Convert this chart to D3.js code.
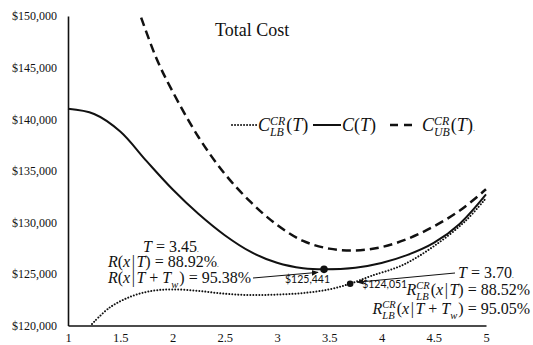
<!DOCTYPE html>
<html>
<head>
<meta charset="utf-8">
<script src="https://cdn.jsdelivr.net/npm/d3@7"></script>
<style>
  body { margin: 0; background: #fff; }
  svg { display: block; }
</style>
</head>
<body>
<svg id="chart" width="533" height="345"></svg>
<script>
// ---- Data ----
const xTicks = [1, 1.5, 2, 2.5, 3, 3.5, 4, 4.5, 5];
const yTicks = [120000, 125000, 130000, 135000, 140000, 145000, 150000];

// C(T): total cost
const tC    = [1, 1.25, 1.5, 1.75, 2, 2.25, 2.5, 2.75, 3, 3.25, 3.45, 3.75, 4, 4.25, 4.5, 4.75, 5];
const costC = [141000, 140500, 138800, 135950, 133200, 130800, 128750, 127130, 126080, 125550, 125441, 125600, 126060, 126840, 128000, 129870, 132700];

// Upper bound C_UB^CR(T)
const tUB    = [1.7, 1.85, 2, 2.25, 2.5, 2.75, 3, 3.25, 3.5, 3.75, 4, 4.25, 4.5, 4.75, 5];
const costUB = [149850, 145800, 142700, 138250, 134700, 131950, 129750, 128200, 127450, 127280, 127600, 128400, 129600, 131150, 133200];

// Lower bound C_LB^CR(T)
const tLB    = [1.23, 1.4, 1.6, 1.8, 2, 2.25, 2.5, 2.75, 3, 3.25, 3.5, 3.7, 3.9, 4.2, 4.5, 4.8, 5];
const costLB = [120150, 121750, 122800, 123350, 123500, 123350, 123080, 122950, 123000, 123150, 123500, 124051, 124800, 125850, 127680, 130100, 132350];

// Optimal points: C(T) minimum and lower-bound minimum
const optT    = [3.45, 3.70];
const optCost = [125441, 124051];

// ---- Layout ----
const svg = d3.select("#chart");
const x = d3.scaleLinear().domain([1, 5]).range([68, 486]);
const y = d3.scaleLinear().domain([120000, 150000]).range([325.5, 16]);

const serif = "Liberation Serif, Times New Roman, serif";

// Axes
const yAxis = d3.axisLeft(y).tickValues(yTicks).tickSize(0).tickSizeOuter(0).tickPadding(11)
  .tickFormat(d => "$" + d3.format(",")(d));
const gy = svg.append("g").attr("transform", `translate(${x(1)},0)`).call(yAxis);
gy.attr("font-family", serif).attr("font-size", 12);
gy.selectAll("text").attr("fill", "#111");

const xAxis = d3.axisBottom(x).tickValues(xTicks).tickSize(0).tickSizeOuter(0).tickPadding(8)
  .tickFormat(d3.format("~g"));
const gx = svg.append("g").attr("transform", `translate(0,${y(120000)})`).call(xAxis);
gx.attr("font-family", serif).attr("font-size", 12.5);
gx.selectAll("text").attr("fill", "#111");

[gx, gy].forEach(g => g.select(".domain").attr("stroke", "#111").attr("stroke-width", 1.6));

// Title
svg.append("text").attr("x", 215).attr("y", 36)
  .attr("font-family", serif).attr("font-size", 18).attr("fill", "#111")
  .text("Total Cost");

// Curves
const line = d3.line().x(d => x(d[0])).y(d => y(d[1])).curve(d3.curveCatmullRom.alpha(0.5));
const zip = (a, b) => a.map((v, i) => [v, b[i]]);

svg.append("path").datum(zip(tLB, costLB)).attr("d", line)
  .attr("fill", "none").attr("stroke", "#111").attr("stroke-width", 2)
  .attr("stroke-dasharray", "0.01 3").attr("stroke-linecap", "round");
svg.append("path").datum(zip(tUB, costUB)).attr("d", line)
  .attr("fill", "none").attr("stroke", "#111").attr("stroke-width", 2.5)
  .attr("stroke-dasharray", "9 5");
svg.append("path").datum(zip(tC, costC)).attr("d", line)
  .attr("fill", "none").attr("stroke", "#111").attr("stroke-width", 2);

// Math-style text: italic letters, upright digits, stacked sub/superscripts
function mathText(g, x0, y0, parts, size, anchor) {
  const grp = g.append("g").attr("font-family", serif).attr("fill", "#111");
  let cx = 0;
  const put = (txt, dy, fs, it) => {
    const t = grp.append("text").attr("x", cx).attr("y", dy).attr("font-size", fs)
      .attr("font-style", it ? "italic" : "normal").text(txt);
    return t.node().getComputedTextLength();
  };
  parts.forEach(p => {
    if (p.gap !== undefined) { cx += p.gap; return; }
    if (p.sup !== undefined || p.sub !== undefined) {
      let w = 0;
      if (p.sup) w = Math.max(w, put(p.sup, -size * 0.36, size * 0.66, true));
      if (p.sub) w = Math.max(w, put(p.sub, size * 0.3, size * 0.66, true));
      cx += w + 1;
      return;
    }
    cx += put(p.s, 0, p.fs || size, p.i);
  });
  const shift = anchor === "end" ? -cx : 0;
  grp.attr("transform", `translate(${x0 + shift},${y0})`);
  return cx;
}
const I = s => ({ s, i: true });
const N = s => ({ s, i: false });
const G = n => ({ gap: n });
const pct = v => d3.format(".2f")(v) + "%";

// Legend
const lg = svg.append("g");
lg.append("line").attr("x1", 232).attr("x2", 257).attr("y1", 125).attr("y2", 125)
  .attr("stroke", "#111").attr("stroke-width", 2).attr("stroke-dasharray", "0.01 3").attr("stroke-linecap", "round");
mathText(lg, 258, 131, [I("C"), { sup: "CR", sub: "LB" }, N("("), I("T"), N(")")], 18);
lg.append("line").attr("x1", 313).attr("x2", 341).attr("y1", 125).attr("y2", 125)
  .attr("stroke", "#111").attr("stroke-width", 2);
mathText(lg, 342, 131, [I("C"), N("("), I("T"), N(")")], 18);
lg.append("line").attr("x1", 390).attr("x2", 412).attr("y1", 125).attr("y2", 125)
  .attr("stroke", "#111").attr("stroke-width", 2.5).attr("stroke-dasharray", "8 6");
mathText(lg, 422, 131, [I("C"), { sup: "CR", sub: "UB" }, N("("), I("T"), N(")"), { s: ".", fs: 8 }], 18);

// Optimal points
const ptC = [x(optT[0]), y(optCost[0])];
const ptLB = [x(optT[1]), y(optCost[1])];
svg.append("circle").attr("cx", ptC[0]).attr("cy", ptC[1]).attr("r", 3.8).attr("fill", "#111");
svg.append("circle").attr("cx", ptLB[0]).attr("cy", ptLB[1]).attr("r", 3.3).attr("fill", "#111");

const money = v => "$" + d3.format(",")(v);
const sans = "Lato, Open Sans, sans-serif";
svg.append("text").attr("x", ptC[0] - 39).attr("y", ptC[1] + 14)
  .attr("font-family", sans).attr("font-size", 10.5).attr("fill", "#111")
  .text(money(optCost[0]));
svg.append("text").attr("x", ptLB[0] + 12).attr("y", ptLB[1] + 4)
  .attr("font-family", sans).attr("font-size", 10.5).attr("fill", "#111")
  .text(money(optCost[1]));

// Arrows
svg.append("defs").append("marker").attr("id", "arr")
  .attr("viewBox", "0 0 10 10").attr("refX", 9).attr("refY", 5)
  .attr("markerWidth", 7).attr("markerHeight", 7).attr("orient", "auto")
  .attr("markerUnits", "userSpaceOnUse")
  .append("path").attr("d", "M0,1 L10,5 L0,9 Z").attr("fill", "#111");
svg.append("line").attr("x1", 253).attr("y1", 278).attr("x2", ptC[0] - 6).attr("y2", ptC[1] + 3)
  .attr("stroke", "#111").attr("stroke-width", 1).attr("marker-end", "url(#arr)");
svg.append("line").attr("x1", 455).attr("y1", 273).attr("x2", ptLB[0] + 7).attr("y2", ptLB[1] - 1.5)
  .attr("stroke", "#111").attr("stroke-width", 1).attr("marker-end", "url(#arr)");

// Annotation: C(T) optimum
const an = svg.append("g");
const bar = [G(1.5), N("|"), G(1.5)];
mathText(an, 143, 252, [I("T"), G(4), N("="), G(4), N(d3.format(".2f")(optT[0])), { s: ".", fs: 7 }], 16);
mathText(an, 108, 267, [I("R"), N("("), I("x"), ...bar, I("T"), N(")"), G(4), N("="), G(4), N(pct(88.92)), { s: ".", fs: 7 }], 16);
mathText(an, 108, 283, [I("R"), N("("), I("x"), ...bar, I("T"), G(4), N("+"), G(4), I("T"), { sub: "w" }, N(")"), G(4), N("="), G(4), N(pct(95.38))], 16);

// Annotation: lower-bound optimum
mathText(an, 458, 278, [I("T"), G(4), N("="), G(4), N(d3.format(".2f")(optT[1])), { s: ".", fs: 7 }], 16);
mathText(an, 530, 295, [I("R"), { sup: "CR", sub: "LB" }, N("("), I("x"), ...bar, I("T"), N(")"), G(4), N("="), G(4), N(pct(88.52))], 16, "end");
mathText(an, 530, 314, [I("R"), { sup: "CR", sub: "LB" }, N("("), I("x"), ...bar, I("T"), G(4), N("+"), G(4), I("T"), { sub: "w" }, N(")"), G(4), N("="), G(4), N(pct(95.05))], 16, "end");
</script>
</body>
</html>
